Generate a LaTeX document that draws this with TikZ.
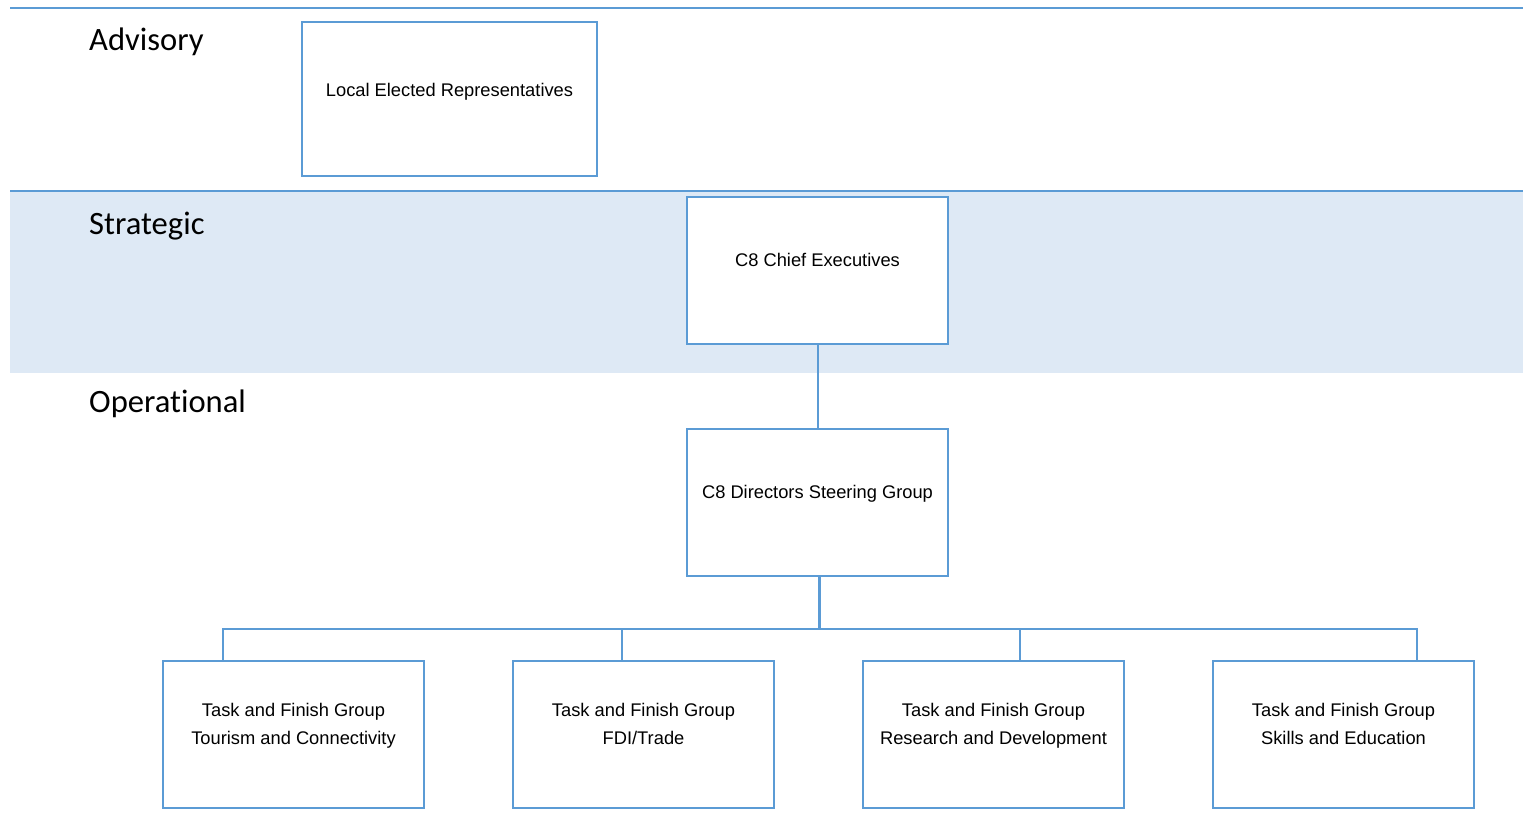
\documentclass[tikz,border=0pt]{standalone}
\usepackage{fontspec}
\setmainfont{Liberation Sans}
\newfontfamily\lblfont[Ligatures=NoCommon]{Carlito}
\usetikzlibrary{calc}
\definecolor{lineblue}{HTML}{5B9BD5}
\definecolor{bandblue}{HTML}{DEE9F5}
\tikzset{
  orgbox/.style={draw=lineblue, line width=1.8pt, fill=white, inner sep=0pt, outer sep=0pt, anchor=north west},
  boxtext/.style={font=\fontsize{18.3}{27.5}\selectfont, align=center, inner sep=0pt, anchor=base},
  tierlabel/.style={font=\lblfont\fontsize{32.6}{38}\selectfont, anchor=base west, inner sep=0pt},
  conn/.style={draw=lineblue, line width=2pt},
  rule/.style={draw=lineblue, line width=1.8pt}
}
\begin{document}
\begin{tikzpicture}[x=1pt,y=-1pt]
\useasboundingbox (0,0) rectangle (1523,830);
% band
\fill[bandblue] (10,191) rectangle (1523,373);
\coordinate (r1a) at (10,8);
\coordinate (r1b) at (1523,8);
\coordinate (r2a) at (10,191);
\coordinate (r2b) at (1523,191);
\draw[rule] (r1a) -- (r1b);
\draw[rule] (r2a) -- (r2b);
% tier labels
\node[tierlabel] (ladv) at (89,50) {Advisory};
\node[tierlabel] (lstr) at (89,234) {Strategic};
\node[tierlabel] (lop) at (89,412) {Operational};
% boxes
\node[orgbox, minimum width=295pt, minimum height=154pt] (ler) at (302,22) {};
\node[orgbox, minimum width=261pt, minimum height=147pt] (ce) at (687,197) {};
\node[orgbox, minimum width=261pt, minimum height=147pt] (dsg) at (687,429) {};
\node[orgbox, minimum width=261pt, minimum height=147pt] (t1) at (163,661) {};
\node[orgbox, minimum width=261pt, minimum height=147pt] (t2) at (513,661) {};
\node[orgbox, minimum width=261pt, minimum height=147pt] (t3) at (863,661) {};
\node[orgbox, minimum width=261pt, minimum height=147pt] (t4) at (1213,661) {};
% texts (anchored on the baseline of the last line)
\node[boxtext] (lertx) at ([yshift=-74pt]ler.north) {Local Elected Representatives};
\node[boxtext] (cetx) at ([yshift=-69pt]ce.north) {C8 Chief Executives};
\node[boxtext] (dsgtx) at ([yshift=-69pt]dsg.north) {C8 Directors Steering Group};
\node[boxtext] (t1tx) at ([yshift=-83pt]t1.north) {Task and Finish Group\\Tourism and Connectivity};
\node[boxtext] (t2tx) at ([yshift=-83pt]t2.north) {Task and Finish Group\\FDI/Trade};
\node[boxtext] (t3tx) at ([yshift=-83pt]t3.north) {Task and Finish Group\\Research and Development};
\node[boxtext] (t4tx) at ([yshift=-83pt]t4.north) {Task and Finish Group\\Skills and Education};
% connectors
\draw[conn] (ce.south) -- (dsg.north);
\coordinate (bus) at ([xshift=2pt]dsg.south |- 0,629);
\draw[conn, line width=2.8pt] ([xshift=2pt]dsg.south) -- (bus);
\draw[conn] (bus) -| ([xshift=60pt]t1.north west);
\draw[conn] (bus) -| ([xshift=109pt]t2.north west);
\draw[conn] (bus) -| ([xshift=157pt]t3.north west);
\draw[conn] (bus) -| ([xshift=204pt]t4.north west);
\end{tikzpicture}
\end{document}
